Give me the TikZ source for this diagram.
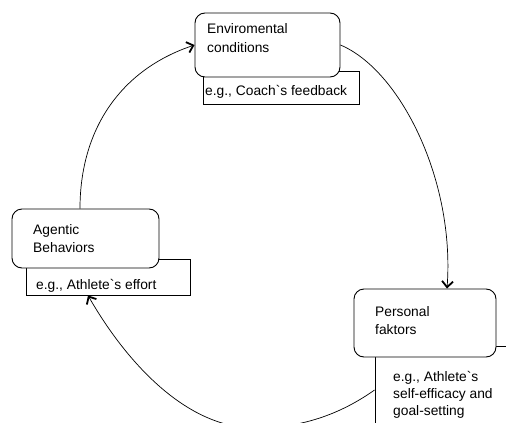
\documentclass[tikz,border=0pt]{standalone}
\usepackage{fontspec}
\setmainfont{Liberation Sans}
\usetikzlibrary{arrows.meta}
\begin{document}
\begin{tikzpicture}[x=1pt,y=-1pt,
  mainbox/.style={draw=black,line width=0.9pt,fill=white,rounded corners=10pt,inner sep=0pt},
  exbox/.style={draw=black,line width=0.9pt,fill=white,inner sep=0pt},
  lbl/.style={anchor=base west,inner sep=0pt,font=\fontsize{13.8}{16}\selectfont},
  conn/.style={line width=0.7pt,-{Straight Barb[length=6pt,width=11pt,line width=1.8pt]}}]
\useasboundingbox (0,0) rectangle (506,423);
\clip (0,0) rectangle (506,423);
% example boxes (behind)
\node[exbox,minimum width=156pt,minimum height=33pt] (envex) at (281,87.5) {};
\node[exbox,minimum width=164pt,minimum height=36pt] (agex) at (108,277) {};
\node[exbox,minimum width=150pt,minimum height=90pt] (perex) at (450,391) {};
% main boxes
\node[mainbox,minimum width=145pt,minimum height=64pt] (envbox) at (267.5,45) {};
\node[mainbox,minimum width=147pt,minimum height=59pt] (agbox) at (85.5,238.5) {};
\node[mainbox,minimum width=142pt,minimum height=68pt] (perbox) at (425,323) {};
% texts
\node[lbl] (t1) at (207,34) {Enviromental};
\node[lbl] (t2) at (207,52) {conditions};
\node[lbl] (t3) at (205,95) {e.g., Coach\textasciigrave s feedback};
\node[lbl] (t4) at (33,234) {Agentic};
\node[lbl] (t5) at (33,252) {Behaviors};
\node[lbl] (t6) at (36,289) {e.g., Athlete\textasciigrave s effort};
\node[lbl] (t7) at (375,316) {Personal};
\node[lbl] (t8) at (375,334) {faktors};
\node[lbl] (t9) at (393,381) {e.g., Athlete\textasciigrave s};
\node[lbl] (t10) at (393,398) {self-efficacy and};
\node[lbl] (t11) at (393,415) {goal-setting};
% connectors
\draw[conn] ([xshift=-5.5pt]agbox.north) .. controls (80,130) and (120,70) .. (envbox.west);
\draw[conn] (envbox.east) .. controls (400,70) and (455,180) .. ([xshift=22pt]perbox.north);
\draw[conn] ([yshift=1pt]perex.west) .. controls (335,418) and (295,428) .. (255,428)
  .. controls (185,428) and (125,360) .. ([xshift=-20pt]agex.south);
\end{tikzpicture}
\end{document}
